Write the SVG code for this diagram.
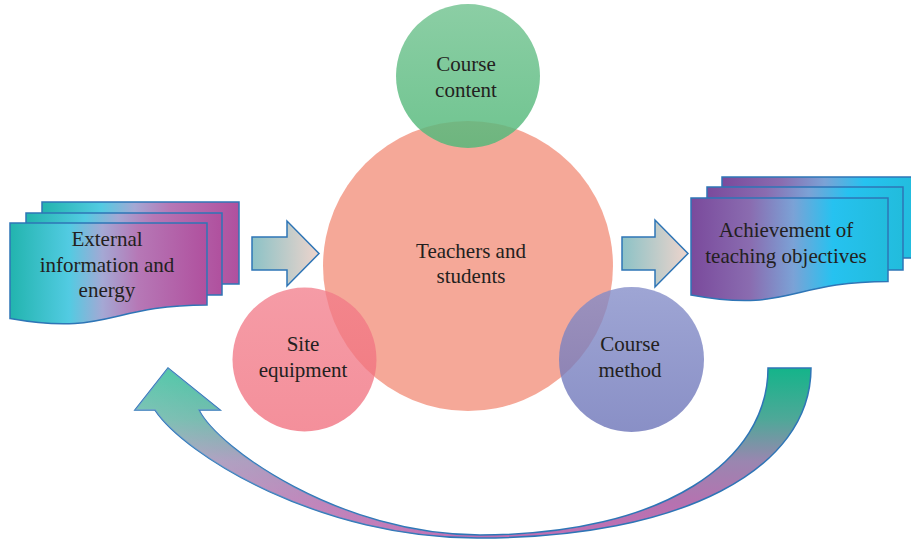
<svg xmlns="http://www.w3.org/2000/svg" width="911" height="544" viewBox="0 0 911 544">
  <style>
    .lbl { font-family: "Liberation Serif", "Times New Roman", serif; font-size: 21px; fill: #231f20; text-anchor: middle; }
    .edge { stroke: #2e75b6; stroke-width: 1.5; stroke-linejoin: miter; }
  </style>
  <defs>
    <linearGradient id="gIn" x1="0" y1="0" x2="1" y2="0">
      <stop offset="0" stop-color="#22b4ae"/>
      <stop offset="0.3" stop-color="#52cbe2"/>
      <stop offset="0.47" stop-color="#a4a8d4"/>
      <stop offset="0.65" stop-color="#b678b6"/>
      <stop offset="1" stop-color="#b0509e"/>
    </linearGradient>
    <linearGradient id="gOut" x1="0" y1="0" x2="1" y2="0">
      <stop offset="0" stop-color="#7a4a9c"/>
      <stop offset="0.3" stop-color="#8a6cb0"/>
      <stop offset="0.52" stop-color="#7ba2d6"/>
      <stop offset="0.72" stop-color="#26c2f0"/>
      <stop offset="1" stop-color="#22bcdc"/>
    </linearGradient>
    <linearGradient id="gArrow" x1="0" y1="0" x2="1" y2="0">
      <stop offset="0" stop-color="#8cc2c6"/>
      <stop offset="1" stop-color="#eed4cc"/>
    </linearGradient>
    <linearGradient id="gLoop" gradientUnits="userSpaceOnUse" x1="0" y1="368" x2="0" y2="538">
      <stop offset="0" stop-color="#14b48a"/>
      <stop offset="0.3" stop-color="#4ea898"/>
      <stop offset="0.55" stop-color="#9a86b0"/>
      <stop offset="0.8" stop-color="#b672b0"/>
      <stop offset="1" stop-color="#c070b4"/>
    </linearGradient>
    <linearGradient id="gLoopHi" gradientUnits="userSpaceOnUse" x1="135" y1="0" x2="480" y2="0">
      <stop offset="0" stop-color="#ffffff" stop-opacity="0.3"/>
      <stop offset="1" stop-color="#ffffff" stop-opacity="0"/>
    </linearGradient>
    <linearGradient id="gGreen" x1="0" y1="0" x2="0" y2="1">
      <stop offset="0" stop-color="#74c492"/>
      <stop offset="1" stop-color="#52b879"/>
    </linearGradient>
    <linearGradient id="gPink" x1="0" y1="0" x2="0" y2="1">
      <stop offset="0" stop-color="#f27a88"/>
      <stop offset="1" stop-color="#f06a79"/>
    </linearGradient>
    <linearGradient id="gBlue" x1="0" y1="0" x2="0" y2="1">
      <stop offset="0" stop-color="#838cc8"/>
      <stop offset="1" stop-color="#6870b6"/>
    </linearGradient>
  </defs>

  <!-- connectors: straight block arrows and the return loop -->
  <g id="connectors">
    <path class="edge" fill="url(#gArrow)" d="M252,237 H287 V221 L319,253.5 L287,286 V270 H252 Z"/>
    <path class="edge" fill="url(#gArrow)" d="M622,237 H655 V220 L688,253.5 L655,287 V270 H622 Z"/>
    <g id="loop">
      <path class="edge" stroke-width="1.3" fill="url(#gLoop)"
            d="M811,368 C811,470 680,538 480,538 C320,539 185,455 155,410 L135,410 L168,368 L220,410 L199,410 C218,448 340,535 480,535 C665,535 768,460 768,368 Z"/>
      <path fill="url(#gLoopHi)"
            d="M811,368 C811,470 680,538 480,538 C320,539 185,455 155,410 L135,410 L168,368 L220,410 L199,410 C218,448 340,535 480,535 C665,535 768,460 768,368 Z"/>
    </g>
  </g>

  <!-- input: stacked documents -->
  <g id="external-input">
    <rect class="edge" fill="url(#gIn)" x="42" y="202" width="197" height="82"/>
    <rect class="edge" fill="url(#gIn)" x="26" y="213" width="196" height="82"/>
    <path class="edge" fill="url(#gIn)" d="M10,223 H207 V305 C108.5,305 108.5,336 10,318.5 Z"/>
    <text class="lbl" x="107" y="246">External</text>
    <text class="lbl" x="107" y="272">information and</text>
    <text class="lbl" x="107" y="297">energy</text>
  </g>

  <!-- output: stacked documents -->
  <g id="objectives-output">
    <rect class="edge" fill="url(#gOut)" x="722" y="177" width="197" height="81"/>
    <rect class="edge" fill="url(#gOut)" x="707" y="187" width="196" height="83"/>
    <path class="edge" fill="url(#gOut)" d="M691,198 H888 V281.5 C789.5,281.5 789.5,313 691,295 Z"/>
    <text class="lbl" x="786" y="237">Achievement of</text>
    <text class="lbl" x="786" y="263">teaching objectives</text>
  </g>

  <!-- central circle -->
  <g id="teachers-students">
    <circle cx="468" cy="266" r="145" fill="#f28b76" fill-opacity="0.75"/>
    <text class="lbl" x="471" y="258">Teachers and</text>
    <text class="lbl" x="471" y="283">students</text>
  </g>

  <g id="course-content">
    <circle cx="468" cy="76" r="72" fill="url(#gGreen)" fill-opacity="0.83"/>
    <text class="lbl" x="466" y="71">Course</text>
    <text class="lbl" x="466" y="97">content</text>
  </g>

  <g id="site-equipment">
    <circle cx="304.5" cy="359.5" r="72" fill="url(#gPink)" fill-opacity="0.75"/>
    <text class="lbl" x="303" y="351">Site</text>
    <text class="lbl" x="303" y="377">equipment</text>
  </g>

  <g id="course-method">
    <circle cx="631.5" cy="359.5" r="72.5" fill="url(#gBlue)" fill-opacity="0.78"/>
    <text class="lbl" x="630" y="351">Course</text>
    <text class="lbl" x="630" y="377">method</text>
  </g>
</svg>
